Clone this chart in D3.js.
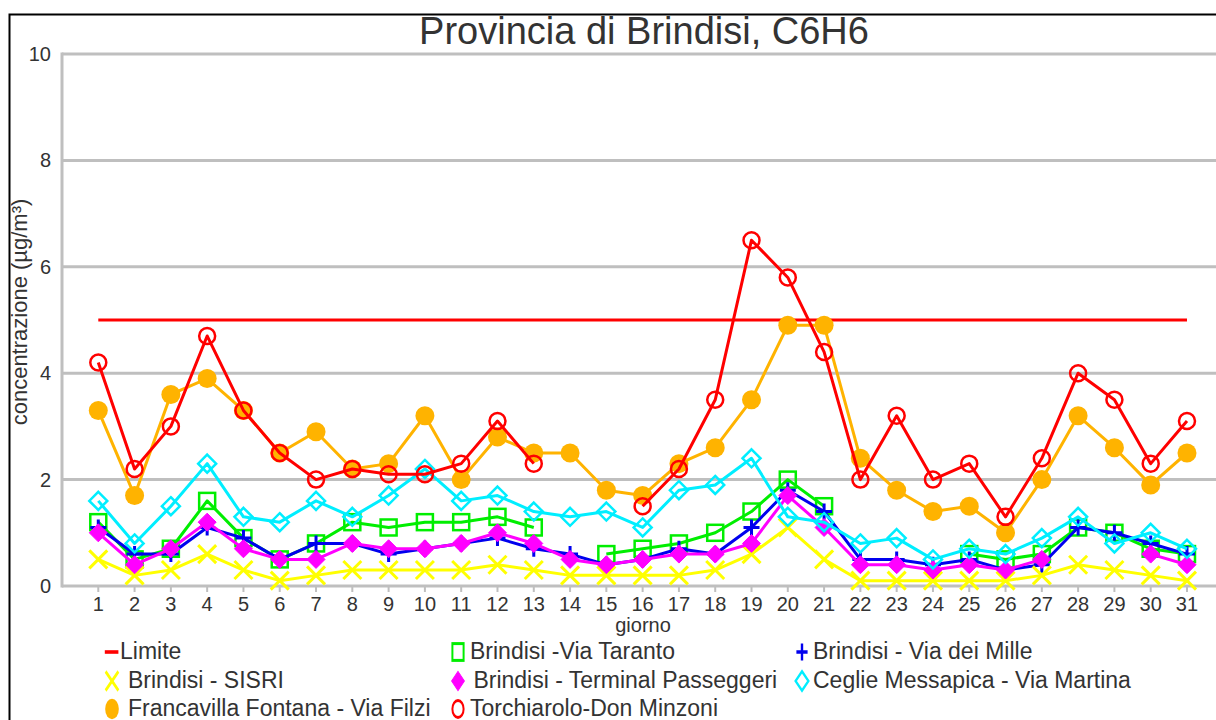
<!DOCTYPE html>
<html>
<head>
<meta charset="utf-8">
<script src="https://cdn.jsdelivr.net/npm/d3@7"></script>
<style>
  body { margin: 0; background: #fff; }
  text { font-family: "Liberation Sans", Arial, sans-serif; fill: #333; white-space: pre; }
</style>
</head>
<body>
<div id="chart"></div>
<script>
// ---- data ----
var days = d3.range(1, 32);
var limite = 5;
var viaTaranto = [1.2, 0.5, 0.7, 1.6, 0.9, 0.5, 0.8, 1.2, 1.1, 1.2, 1.2, 1.3, 1.1, null, 0.6, 0.7, 0.8, 1.0, 1.4, 2.0, 1.5, null, null, null, 0.6, 0.5, 0.6, 1.1, 1.0, 0.7, 0.6];
var viaMille = [1.1, 0.6, 0.6, 1.1, 0.9, 0.5, 0.8, 0.8, 0.6, 0.7, 0.8, 0.9, 0.7, 0.6, 0.4, 0.5, 0.7, 0.6, 1.1, 1.8, 1.4, 0.5, 0.5, 0.4, 0.5, 0.3, 0.4, 1.1, 1.0, 0.8, 0.6];
var sisri = [0.5, 0.2, 0.3, 0.6, 0.3, 0.1, 0.2, 0.3, 0.3, 0.3, 0.3, 0.4, 0.3, 0.2, 0.2, 0.2, 0.2, 0.3, 0.6, 1.1, 0.5, 0.1, 0.1, 0.1, 0.1, 0.1, 0.2, 0.4, 0.3, 0.2, 0.1];
var terminal = [1.0, 0.4, 0.7, 1.2, 0.7, 0.5, 0.5, 0.8, 0.7, 0.7, 0.8, 1.0, 0.8, 0.5, 0.4, 0.5, 0.6, 0.6, 0.8, 1.7, 1.1, 0.4, 0.4, 0.3, 0.4, 0.3, 0.5, null, null, 0.6, 0.4];
var ceglie = [1.6, 0.8, 1.5, 2.3, 1.3, 1.2, 1.6, 1.3, 1.7, 2.2, 1.6, 1.7, 1.4, 1.3, 1.4, 1.1, 1.8, 1.9, 2.4, 1.3, 1.2, 0.8, 0.9, 0.5, 0.7, 0.6, 0.9, 1.3, 0.8, 1.0, 0.7];
var francavilla = [3.3, 1.7, 3.6, 3.9, 3.3, 2.5, 2.9, 2.2, 2.3, 3.2, 2.0, 2.8, 2.5, 2.5, 1.8, 1.7, 2.3, 2.6, 3.5, 4.9, 4.9, 2.4, 1.8, 1.4, 1.5, 1.0, 2.0, 3.2, 2.6, 1.9, 2.5];
var torchiarolo = [4.2, 2.2, 3.0, 4.7, 3.3, 2.5, 2.0, 2.2, 2.1, 2.1, 2.3, 3.1, 2.3, null, null, 1.5, 2.2, 3.5, 6.5, 5.8, 4.4, 2.0, 3.2, 2.0, 2.3, 1.3, 2.4, 4.0, 3.5, 2.3, 3.1];
var yTicks = [0, 2, 4, 6, 8, 10];

var series = [
  { name: "Brindisi -Via Taranto", values: viaTaranto, color: "#00ee00", marker: "square" },
  { name: "Brindisi - Via dei Mille", values: viaMille, color: "#0000ee", marker: "plus" },
  { name: "Brindisi - SISRI", values: sisri, color: "#ffff00", marker: "x" },
  { name: " Brindisi - Terminal Passeggeri", values: terminal, color: "#ff00ff", marker: "diamondFill" },
  { name: "Ceglie Messapica - Via Martina", values: ceglie, color: "#00eeff", marker: "diamond" },
  { name: "Francavilla Fontana - Via Filzi", values: francavilla, color: "#ffb300", marker: "dot" },
  { name: "Torchiarolo-Don Minzoni", values: torchiarolo, color: "#ff0000", marker: "circle" }
];

(function () {
  var W = 1216, H = 720;
  var mLeft = 62, mTop = 54, mBottom = 586, step = 36.29;

  var svg = d3.select("#chart").append("svg")
    .attr("width", W).attr("height", H);

  // outer frame
  svg.append("rect")
    .attr("x", 9.5).attr("y", 14.5).attr("width", W + 20).attr("height", H + 20)
    .attr("fill", "none").attr("stroke", "#000").attr("stroke-width", 2);

  var x = d3.scaleLinear().domain([0, 32]).range([mLeft, mLeft + 32 * step]);
  var y = d3.scaleLinear().domain([0, 10]).range([mBottom, mTop]);

  // grid
  svg.append("g").selectAll("line")
    .data(yTicks.filter(d => d > 0))
    .enter().append("line")
    .attr("x1", mLeft).attr("x2", W)
    .attr("y1", d => y(d)).attr("y2", d => y(d))
    .attr("stroke", "#bfbfbf").attr("stroke-width", 3);

  // y labels
  svg.append("g").selectAll("text")
    .data(yTicks)
    .enter().append("text")
    .attr("x", 51).attr("y", d => y(d) + 7)
    .attr("text-anchor", "end")
    .attr("font-size", 20)
    .text(d => d);

  // axes lines
  svg.append("line").attr("x1", mLeft).attr("x2", mLeft).attr("y1", mTop - 1.5).attr("y2", mBottom + 1.5)
    .attr("stroke", "#bfbfbf").attr("stroke-width", 3);
  svg.append("line").attr("x1", mLeft).attr("x2", W).attr("y1", mBottom).attr("y2", mBottom)
    .attr("stroke", "#bfbfbf").attr("stroke-width", 3);

  // x ticks
  var xa = svg.append("g");
  xa.selectAll("line").data(days).enter().append("line")
    .attr("x1", d => x(d)).attr("x2", d => x(d))
    .attr("y1", mBottom).attr("y2", mBottom + 6)
    .attr("stroke", "#bfbfbf").attr("stroke-width", 2);
  xa.selectAll("text").data(days).enter().append("text")
    .attr("x", d => x(d)).attr("y", 611)
    .attr("text-anchor", "middle").attr("font-size", 20)
    .text(d => d);

  // axis titles
  svg.append("text").attr("x", 643).attr("y", 632)
    .attr("text-anchor", "middle").attr("font-size", 20).text("giorno");
  svg.append("text")
    .attr("transform", "translate(27,312) rotate(-90)")
    .attr("text-anchor", "middle").attr("font-size", 22)
    .text("concentrazione (µg/m³)");

  // title
  svg.append("text").attr("x", 644).attr("y", 44)
    .attr("text-anchor", "middle").attr("font-size", 38)
    .text("Provincia di Brindisi, C6H6");

  // limit line
  svg.append("line")
    .attr("x1", x(1)).attr("x2", x(31))
    .attr("y1", y(limite)).attr("y2", y(limite))
    .attr("stroke", "#ff0000").attr("stroke-width", 3);

  function drawMarker(g, type, color, s) {
    if (type === "square") {
      g.append("rect").attr("x", -s / 2).attr("y", -s / 2).attr("width", s).attr("height", s)
        .attr("fill", "none").attr("stroke", color).attr("stroke-width", 2.5);
    } else if (type === "plus") {
      g.append("path").attr("d", "M" + (-s / 2) + ",0H" + (s / 2) + "M0," + (-s / 2) + "V" + (s / 2))
        .attr("stroke", color).attr("stroke-width", 3);
    } else if (type === "x") {
      var h = s / 2 + 1;
      g.append("path").attr("d", "M" + (-h) + "," + (-h) + "L" + h + "," + h + "M" + (-h) + "," + h + "L" + h + "," + (-h))
        .attr("stroke", color).attr("stroke-width", 3);
    } else if (type === "diamondFill" || type === "diamond") {
      var h2 = s / 2 + 1;
      g.append("path").attr("d", "M0," + (-h2) + "L" + h2 + ",0L0," + h2 + "L" + (-h2) + ",0Z")
        .attr("fill", type === "diamondFill" ? color : "none")
        .attr("stroke", color).attr("stroke-width", type === "diamondFill" ? 1 : 2.5);
    } else if (type === "dot") {
      g.append("circle").attr("r", s / 2 + 1.5).attr("fill", color);
    } else if (type === "circle") {
      g.append("circle").attr("r", s / 2).attr("fill", "none")
        .attr("stroke", color).attr("stroke-width", 2.5);
    }
  }

  var line = d3.line()
    .defined(d => d != null)
    .x((d, i) => x(days[i]))
    .y(d => y(d));

  series.forEach(function (s) {
    var g = svg.append("g");
    g.append("path").attr("d", line(s.values))
      .attr("fill", "none").attr("stroke", s.color).attr("stroke-width", 3)
      .attr("stroke-linejoin", "round");
    s.values.forEach(function (v, i) {
      if (v == null) return;
      var m = g.append("g").attr("transform", "translate(" + x(days[i]) + "," + y(v) + ")");
      drawMarker(m, s.marker, s.color, 16);
    });
  });

  // legend
  var legendItems = [{ name: "Limite", color: "#ff0000", marker: "dash" }].concat(series);
  var colX = [112, 458, 802], rowY = [652, 681, 709];
  var textDx = [8, 12, 11, 16, 9, 11, 16, 12];
  legendItems.forEach(function (s, i) {
    var cx = colX[i % 3], cy = rowY[Math.floor(i / 3)];
    var g = svg.append("g").attr("transform", "translate(" + cx + "," + cy + ") scale(0.8,1.2)");
    if (s.marker === "dash") {
      g.append("line").attr("x1", -9).attr("x2", 8).attr("stroke", s.color).attr("stroke-width", 3);
    } else {
      drawMarker(g, s.marker, s.color, 14);
    }
    svg.append("text").attr("x", cx + textDx[i]).attr("y", cy + 7)
      .attr("font-size", 23).text(s.name);
  });
})();
</script>
</body>
</html>
